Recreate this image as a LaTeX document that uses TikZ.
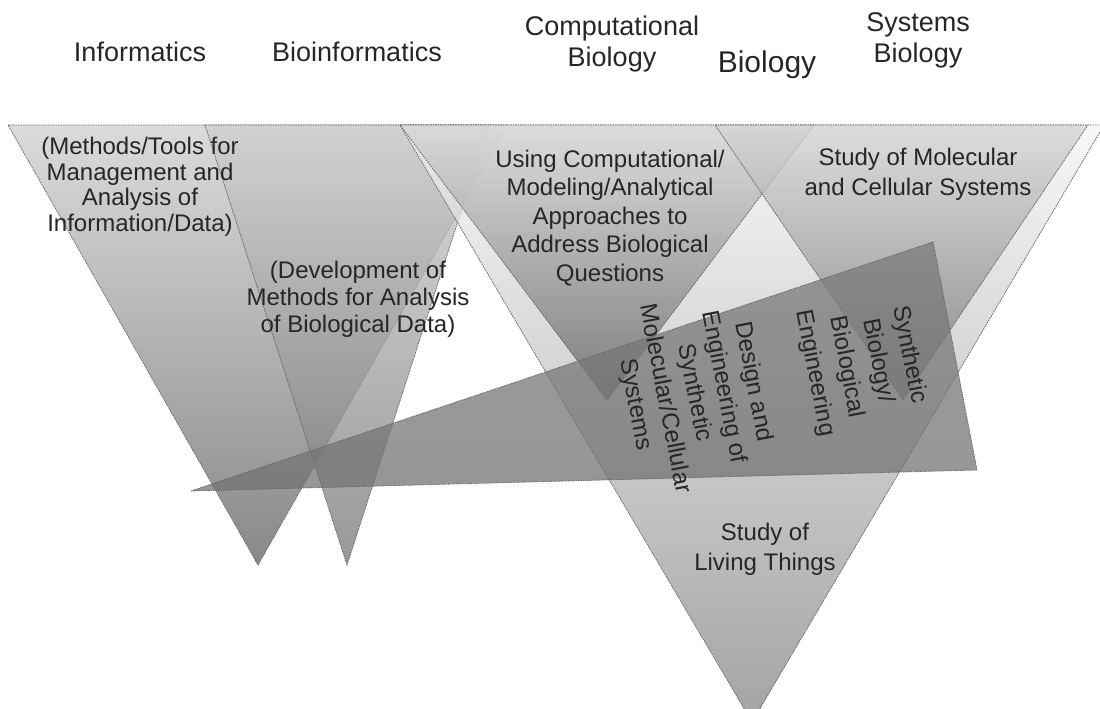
\documentclass[tikz,border=0pt]{standalone}
\usepackage{fontspec}
\setmainfont{Liberation Sans}

\tikzset{
  field/.style={fill opacity=0.75, draw=black!60, dash pattern=on 1.5pt off 1pt, line width=0.8pt},
  lbl/.style={align=center, text=black!85, text opacity=1, font=\fontsize{24}{27}\selectfont},
  head/.style={align=center, text=black!85, font=\fontsize{27}{31}\selectfont},
}

\begin{document}
\begin{tikzpicture}[x=1pt, y=-1pt]
        \useasboundingbox (0,0) rectangle (1100,709);

        % Fields (inverted triangles)
        \begin{scope}
        \clip (0,0) rectangle (1100,709);
        \shade[field, top color=black!19, bottom color=black!62] (8,125) -- (508,125) -- (258,565) -- cycle;
        \shade[field, top color=black!19, bottom color=black!54] (205,125) -- (489,125) -- (347,565) -- cycle;
        \shade[field, top color=black!4, bottom color=black!48] (400,125) -- (1104,125) -- (752,722) -- cycle;
        \shade[field, top color=black!17, bottom color=black!62] (400,125) -- (814,125) -- (607,400) -- cycle;
        \shade[field, top color=black!17, bottom color=black!55] (715,125) -- (1088,125) -- (903,400) -- cycle;

        % Synthetic biology wedge
        \shade[field, top color=black!52, bottom color=black!55] (191,491) -- (933,242) -- (977,470) -- cycle;
        \end{scope}

        % Headings
        \node[head, anchor=base] (inf) at (140,62) {Informatics};
        \node[head, anchor=base] (bioinf) at (357,62) {Bioinformatics};
        \node[head] (compbio) at (612,44) {Computational\\Biology};
        \node[head, anchor=base, font=\fontsize{30}{34}\selectfont] (bio) at (767,72) {Biology};
        \node[head] (sysbio) at (918,40) {Systems\\Biology};

        % Descriptions
        \node[lbl, font=\fontsize{24}{25.5}\selectfont] (infText) at (140,187) {(Methods/Tools for\\Management and\\Analysis of\\Information/Data)};
        \node[lbl] (bioinfText) at (358,299) {(Development of\\Methods for Analysis\\of Biological Data)};
        \node[lbl, font=\fontsize{24}{28.5}\selectfont] (compText) at (610,218) {Using Computational/\\Modeling/Analytical\\Approaches to\\Address Biological\\Questions};
        \node[lbl, font=\fontsize{24}{30}\selectfont] (sysText) at (918,174) {Study of Molecular\\and Cellular Systems};
        \node[lbl, font=\fontsize{24}{30}\selectfont] (bioText) at (765,549) {Study of\\Living Things};

        % Rotated labels in the wedge
        \node[lbl, rotate=-79, font=\fontsize{24}{32}\selectfont] (synText) at (862,364) {Synthetic\\Biology/\\Biological\\Engineering};
        \node[lbl, rotate=-79, font=\fontsize{24}{30}\selectfont] (designText) at (694,393) {Design and\\Engineering of\\Synthetic\\Molecular/Cellular\\Systems};

\end{tikzpicture}
\end{document}
